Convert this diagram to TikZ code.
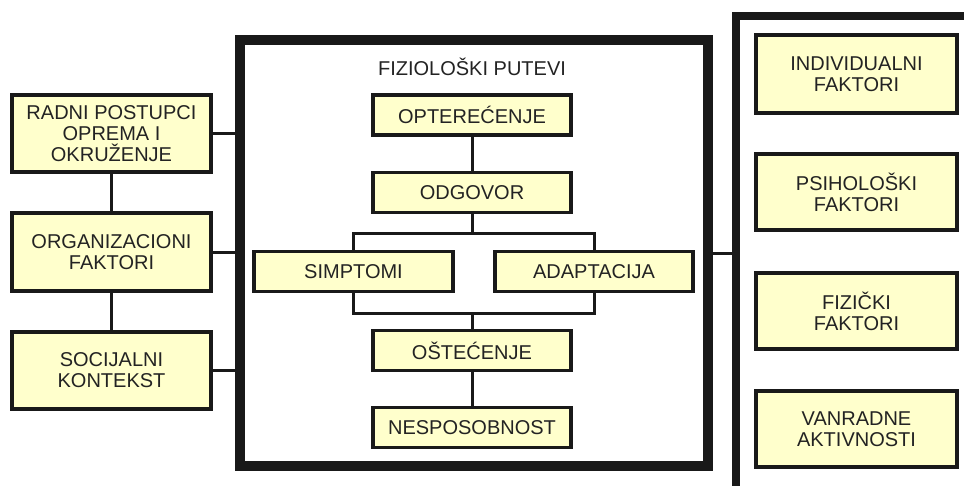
\documentclass[tikz,border=0pt]{standalone}
\usepackage{fontspec}
\setmainfont{Liberation Sans}
\definecolor{boxfill}{RGB}{255,255,204}
\definecolor{ink}{RGB}{25,25,25}
\definecolor{txt}{RGB}{35,35,35}
\begin{document}
\begin{tikzpicture}[x=1pt,y=-1pt,
  box/.style={draw=ink, fill=boxfill, line width=3.5pt, inner sep=0pt, align=center,
    text=txt, font=\fontsize{20}{21}\selectfont},
  frame/.style={draw=ink, inner sep=0pt},
  conn/.style={draw=ink, line width=3pt}]
\useasboundingbox (0,0) rectangle (964,485);
\fill[white] (0,0) rectangle (964,485);
\clip (0,0) rectangle (964,485);

% frames
\node[frame, line width=10.5pt, minimum width=468pt, minimum height=426pt] (F) at (474,253) {};
\node[frame, line width=8.5pt, minimum width=264pt, minimum height=504pt] (R) at (868,268) {};

% title
\node[text=txt, font=\fontsize{20}{21}\selectfont] (T) at (472,67) {FIZIOLOŠKI PUTEVI};

% left boxes
\node[box, minimum width=199pt, minimum height=77pt] (RAD) at (111.5,133.5) {RADNI POSTUPCI\\OPREMA I\\OKRUŽENJE};
\node[box, minimum width=199pt, minimum height=78pt] (ORG) at (111.5,252) {ORGANIZACIONI\\FAKTORI};
\node[box, minimum width=199pt, minimum height=77pt] (SOC) at (111.5,370.5) {SOCIJALNI\\KONTEKST};

% central boxes
\node[box, minimum width=198pt, minimum height=40pt] (OPT) at (472,115) {OPTEREĆENJE};
\node[box, minimum width=198pt, minimum height=40pt] (ODG) at (472,192.5) {ODGOVOR};
\node[box, minimum width=199pt, minimum height=40pt] (SIM) at (353.5,271.5) {SIMPTOMI};
\node[box, minimum width=198pt, minimum height=40pt] (ADA) at (594,271.5) {ADAPTACIJA};
\node[box, minimum width=198pt, minimum height=40pt] (OST) at (472,350.5) {OŠTEĆENJE};
\node[box, minimum width=198pt, minimum height=40pt] (NES) at (472,427.5) {NESPOSOBNOST};

% right boxes
\node[box, minimum width=201pt, minimum height=78pt] (IND) at (856.5,74) {INDIVIDUALNI\\FAKTORI};
\node[box, minimum width=201pt, minimum height=76pt] (PSI) at (856.5,192) {PSIHOLOŠKI\\FAKTORI};
\node[box, minimum width=201pt, minimum height=76pt] (FIZ) at (856.5,311) {FIZIČKI\\FAKTORI};
\node[box, minimum width=201pt, minimum height=76pt] (VAN) at (856.5,429) {VANRADNE\\AKTIVNOSTI};

\coordinate (bt) at (472,233);
\coordinate (bb) at (472,313);

% connectors
\draw[conn] (RAD.south) -- (ORG.north);
\draw[conn] (ORG.south) -- (SOC.north);
\draw[conn] (RAD.east) -- (RAD.east -| F.west);
\draw[conn] (ORG.east) -- (ORG.east -| F.west);
\draw[conn] (SOC.east) -- (SOC.east -| F.west);
\draw[conn] (F.east) -- (F.east -| R.west);
\draw[conn] (OPT.south) -- (ODG.north);
\draw[conn] (ODG.south) -- (bt);
\draw[conn] (SIM.north) -- (SIM.north |- bt) -- (ADA.north |- bt) -- (ADA.north);
\draw[conn] (SIM.south) -- (SIM.south |- bb) -- (ADA.south |- bb) -- (ADA.south);
\draw[conn] (bb) -- (OST.north);
\draw[conn] (OST.south) -- (NES.north);
\end{tikzpicture}
\end{document}
